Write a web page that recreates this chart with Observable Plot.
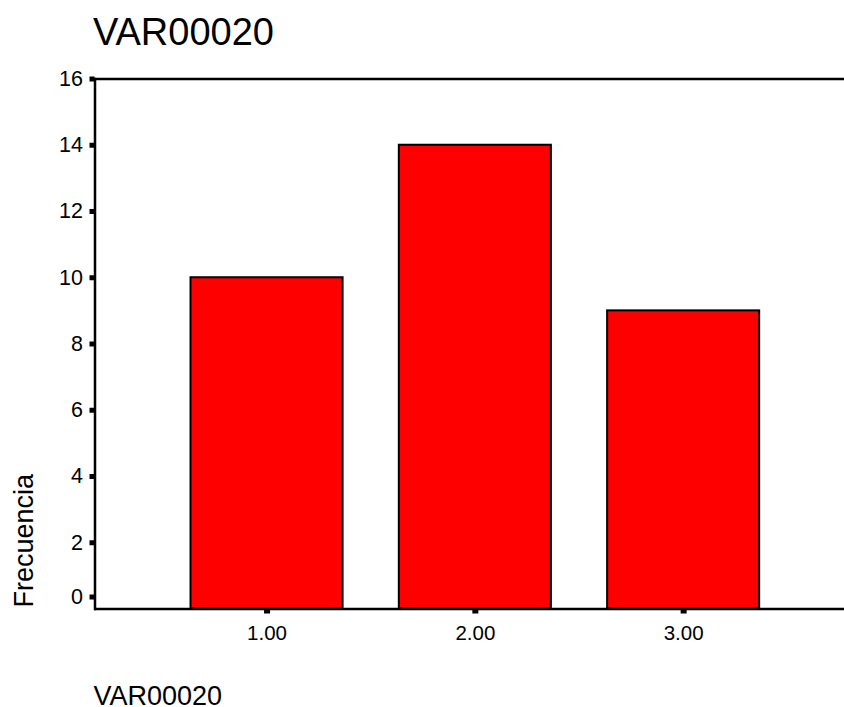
<!DOCTYPE html>
<html>
<head>
<meta charset="utf-8">
<script src="https://cdn.jsdelivr.net/npm/d3@7"></script>
<script src="https://cdn.jsdelivr.net/npm/@observablehq/plot@0.6"></script>
<style>
  html, body { margin: 0; padding: 0; background: #fff; }
  body { font-family: "Liberation Sans", Arial, sans-serif; width: 844px; overflow: hidden; }
  #title { height: 58px; padding-top: 2px; padding-left: 93px; font-size: 38px; line-height: 60px; color: #000; white-space: nowrap; }
  #chart svg { display: block; }
  #chart svg [aria-label="y-axis tick label"] { font-size: 21.5px !important; }
  #chart svg [aria-label="x-axis tick label"] { font-size: 20.5px !important; }
</style>
</head>
<body>
<div id="title">VAR00020</div>
<div id="chart"></div>
<script>
const categories = ["1.00", "2.00", "3.00"];
const frequencies = [10, 14, 9];
const yTicks = [0, 2, 4, 6, 8, 10, 12, 14, 16];
const yLabel = "Frecuencia";
const xLabel = "VAR00020";

const data = categories.map((c, i) => ({cat: c, freq: frequencies[i]}));

const W = 844, H = 647;
const mL = 94.5, mT = 18.5, mB = 98.5;

const chart = Plot.plot({
  width: W,
  height: H,
  marginLeft: mL,
  marginRight: 0,
  marginTop: mT,
  marginBottom: mB,
  style: {fontFamily: "'Liberation Sans', Arial, sans-serif", color: "#000", background: "#fff", overflow: "visible"},
  x: {type: "band", domain: categories, range: [94.5, 855.2], paddingInner: 0.27, paddingOuter: 0.461, round: false, axis: null},
  y: {domain: [0, 16], axis: null},
  marks: [
    Plot.barY(data, {x: "cat", y: "freq", fill: "#ff0000", stroke: "#000", strokeWidth: 2}),
    Plot.ruleY([0, 16], {stroke: "#000", strokeWidth: 2.5}),
    Plot.frame({anchor: "left", stroke: "#000", strokeWidth: 2.5}),
    Plot.axisY(yTicks.filter(d => d > 0), {tickSize: 5, strokeWidth: 5, tickPadding: 7, fontSize: 21.5, label: null, stroke: "#000", fill: "#000", tickFormat: d => String(d)}),
    Plot.axisY([0], {tickSize: 5, strokeWidth: 5, tickPadding: 7, fontSize: 21.5, label: null, dy: -12, stroke: "#000", fill: "#000", tickFormat: d => String(d)}),
    Plot.axisX(categories, {tickSize: 5, strokeWidth: 6, tickPadding: 11, fontSize: 20.5, label: null, stroke: "#000", fill: "#000"}),
    Plot.text([yLabel], {frameAnchor: "bottom-left", rotate: -90, textAnchor: "start", lineAnchor: "middle", dx: -70.5, dy: -1.5, fontSize: 27, fill: "#000"}),
    Plot.text([xLabel], {frameAnchor: "bottom-left", textAnchor: "start", lineAnchor: "top", dx: -1.5, dy: 77, fontSize: 27, fill: "#000"})
  ]
});
document.getElementById("chart").appendChild(chart);
</script>
</body>
</html>
